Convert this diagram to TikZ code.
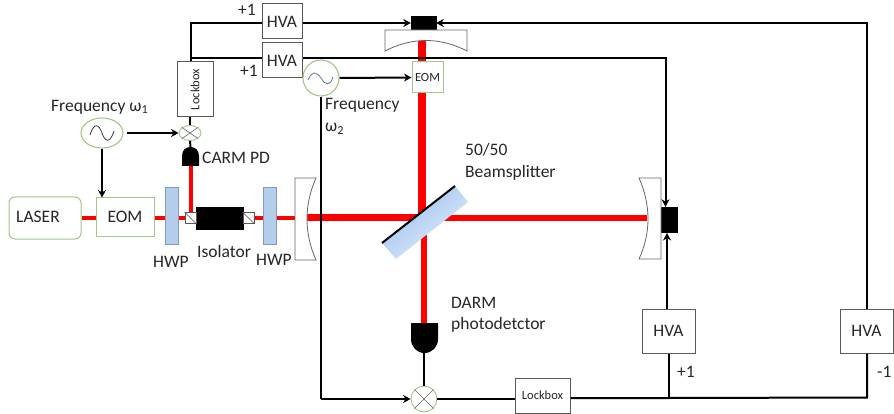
\documentclass[tikz,border=0pt]{standalone}
\usepackage{fontspec}
\setmainfont{Carlito}
\usetikzlibrary{shapes.geometric,arrows.meta,backgrounds}
\definecolor{grn}{HTML}{A6C48C}
\definecolor{hwpf}{HTML}{B4CDEA}
\definecolor{hwpd}{HTML}{7F9DC0}
\definecolor{bsa}{HTML}{97BFF0}
\definecolor{bsb}{HTML}{E6EEF9}
\definecolor{txt}{HTML}{262626}
\tikzset{
  box/.style={draw=#1,line width=1pt,fill=white,inner sep=0pt,text=txt,font=\fontsize{17.5}{19}\selectfont},
  box/.default={black!65},
  greenbox/.style={box=grn},
  osc/.style={draw=grn,line width=1.1pt,fill=white,ellipse,inner sep=0pt},
  mixer/.style={osc,line width=.9pt},
  wire/.style={line width=2pt,black},
  sig/.style={wire,-{Stealth[length=7.5pt,width=8pt]}},
  beam/.style={red,line width=#1},
  hwp/.style={draw=hwpd,line width=.8pt,fill=hwpf,inner sep=0pt,minimum width=13pt,minimum height=57pt},
  lab/.style={text=txt,inner sep=0pt,font=\fontsize{17.5}{19}\selectfont,anchor=west},
  mir/.style={draw=black!60,line width=.8pt,fill=white},
}
\begin{document}
\begin{tikzpicture}[x=1pt,y=-1pt]
\useasboundingbox (0,0) rectangle (894,414);
% ---- boxes
\node[box=grn,rounded corners=6pt,minimum width=72pt,minimum height=42pt] (laser) at (45,218) {};
\node[lab] (laserlab) at (16,217) {LASER};
\node[greenbox,minimum width=58pt,minimum height=38pt] (eom1) at (125,217) {EOM};
\node[hwp] (hwpa) at (171.5,215.5) {};
\node[hwp] (hwpb) at (270,215.5) {};
\node[draw=black,fill=black,inner sep=0pt,minimum width=47pt,minimum height=22pt] (iso) at (219.5,218) {};
\node[box,minimum width=11pt,minimum height=11pt] (isoa) at (190.5,218) {};
\node[box,minimum width=11pt,minimum height=11pt] (isob) at (248.5,218) {};
\draw[black!70,line width=.6pt] (isoa.north west) -- (isoa.south east) (isob.north west) -- (isob.south east);
\node[osc,minimum width=42pt,minimum height=30pt] (osca) at (102,133) {};
\draw[black!75,line width=.8pt] (90,135) .. controls (94,122) and (99,124) .. (102,133) .. controls (105,142) and (110,144) .. (114,131);
\node[mixer,minimum width=22pt,minimum height=15pt] (mixa) at (190,133) {};
\draw[black!60,line width=.6pt] (mixa.north west) -- (mixa.south east) (mixa.north east) -- (mixa.south west);
\coordinate (pdatop) at (190.5,147);
\coordinate (pdabot) at (190.5,166);
\fill[black] (182,166) -- (182,156) .. controls (182,150) and (186,147) .. (190.5,147) .. controls (195,147) and (199,150) .. (199,156) -- (199,166) -- cycle;
\node[box,minimum width=36pt,minimum height=55pt] (lockA) at (195,89.5) {\rotatebox{90}{\fontsize{12.5}{14}\selectfont Lockbox}};
\node[box,minimum width=40pt,minimum height=35pt] (hvaA) at (282,21.5) {HVA};
\node[box,minimum width=40pt,minimum height=35pt] (hvaB) at (282,60.5) {HVA};
\node[lab] (p1a) at (238,10) {+1};
\node[lab] (p1b) at (240,71) {+1};
\node[osc,minimum width=36pt,minimum height=36pt] (oscb) at (321,78) {};
\draw[hwpd!80!black,line width=.8pt] (308,80) .. controls (312,70) and (317,72) .. (321,78) .. controls (325,85) and (330,87) .. (333,77);
\node[greenbox,minimum width=31pt,minimum height=31pt,font=\fontsize{12.5}{14}\selectfont] (eom2) at (427.5,77.5) {EOM};
\node[draw=black,fill=black,inner sep=0pt,minimum width=25pt,minimum height=14pt] (pza) at (423.5,23) {};
\node[draw=black,fill=black,inner sep=0pt,minimum width=16pt,minimum height=25pt] (pzb) at (669,219.5) {};
\node[box,minimum width=53pt,minimum height=44pt] (hvaC) at (668.5,331) {HVA};
\node[box,minimum width=53pt,minimum height=44pt] (hvaD) at (866.5,331) {HVA};
\node[box,minimum width=55pt,minimum height=35pt,font=\fontsize{12.5}{14}\selectfont] (lockB) at (542.5,395.5) {Lockbox};
\node[mixer,minimum width=26pt,minimum height=26pt] (mixb) at (424,399) {};
\draw[black!60,line width=.6pt] (mixb.north west) -- (mixb.south east) (mixb.north east) -- (mixb.south west);
\coordinate (pdbtop) at (424,323);
\coordinate (pdbbot) at (424,353);
\fill[black] (411,323) -- (438,323) -- (438,339) .. controls (438,347) and (432,353) .. (424.5,353) .. controls (417,353) and (411,347) .. (411,339) -- cycle;
% ---- mirrors
\draw[mir] (295,178) -- (316,178) .. controls (304,205) and (304,233) .. (316,260) -- (295,260) -- cycle;
\coordinate (mirL) at (307,218);
\draw[mir] (385,30) -- (467,30) -- (467,51) .. controls (440,37) and (412,37) .. (385,51) -- cycle;
\coordinate (mirT) at (422,41);
\draw[mir] (639,178) -- (661,178) -- (661,259) -- (639,259) .. controls (651,233) and (651,205) .. (639,178) -- cycle;
\coordinate (mirR) at (647,218);
% ---- beamsplitter
\coordinate (bsc) at (424,218);
\shade[left color=bsa,right color=bsb,shading angle=38]
  (382,243) -- (455,186) -- (468,202) -- (396,259) -- cycle;
\draw[black,line width=2pt] (382,243) -- (455,186);
% ---- beams
\begin{scope}[on background layer]
\draw[beam=4.5pt] (laser.east) -- (laser.east -| eom1.west);
\draw[beam=4.5pt] (laser.east -| eom1.east) -- (laser.east -| hwpa.west);
\draw[beam=4.5pt] (hwpa.east |- isoa.west) -- (isoa.west);
\draw[beam=4.5pt] (isob.east) -- (hwpb.west |- isob.east);
\draw[beam=4.5pt] (hwpb.east |- isob.east) -- (295,218);
\draw[beam=4pt] (isoa.north) -- (pdabot);
\draw[beam=7pt] (mirL) -- (bsc);
\draw[beam=6pt] (bsc) -- (mirR);
\draw[beam=8pt] (mirT) -- (eom2.north -| mirT);
\draw[beam=8pt] (eom2.south -| mirT) -- (mirT |- bsc);
\draw[beam=6pt] (bsc) -- (pdbtop);
\end{scope}
% ---- wires
\draw[sig] (osca.south) -- (osca.south |- eom1.north);
\draw[sig] (osca.east) ++(3,0) -- (mixa.west);
\draw[wire] (mixa.south) -- (pdatop);
\draw[wire] (mixa.north) -- (mixa.north |- lockA.south);
\coordinate (jT) at (191,23);
\coordinate (jM) at (191,58);
\draw[wire] (jT |- lockA.north) -- (jT) -- (hvaA.west |- jT);
\draw[wire] (jM) -- (hvaB.west |- jM);
\draw[sig] (hvaA.east |- jT) -- (pza.west);
\coordinate (cornerB) at (665.5,58);
\draw[sig] (hvaB.east |- jM) -- (cornerB) -- (cornerB |- pzb.north);
\draw[sig] (oscb.east) -- (eom2.west);
\coordinate (cornerO) at (321,399);
\draw[wire] (oscb.south) -- (cornerO);
\draw[sig] (cornerO) -- (mixb.west);
\draw[wire] (pdbbot) -- (mixb.north);
\draw[wire] (mixb.east) -- (mixb.east -| lockB.west);
\coordinate (cornerD) at (867,397.5);
\coordinate (jB) at (669,398);
\draw[wire] (lockB.east |- jB) -- (jB) -- (cornerD) -- (hvaD.south -| cornerD);
\draw[wire] (hvaC.south -| jB) -- (jB);
\coordinate (cornerE) at (867,23);
\draw[sig] (hvaD.north -| cornerE) -- (cornerE) -- (pza.east);
\coordinate (cornerC) at (667,233);
\draw[sig] (hvaC.north -| cornerC) -- (cornerC);
% ---- labels
\node[lab] (f1) at (51,107) {Frequency ω\textsubscript{1}};
\node[lab] (carm) at (202,158) {CARM PD};
\node[lab] (hwpl1) at (153,262) {HWP};
\node[lab] (isol) at (197,251) {Isolator};
\node[lab] (hwpl2) at (256,260) {HWP};
\node[lab] (f2a) at (325,105) {Frequency};
\node[lab] (f2b) at (325,129) {ω\textsubscript{2}};
\node[lab] (bs1) at (465,150) {50/50};
\node[lab] (bs2) at (465,173) {Beamsplitter};
\node[lab] (d1) at (451,303) {DARM};
\node[lab] (d2) at (451,325) {photodetctor};
\node[lab] (p1c) at (677,372) {+1};
\node[lab] (m1) at (877,372) {-1};
\end{tikzpicture}
\end{document}
